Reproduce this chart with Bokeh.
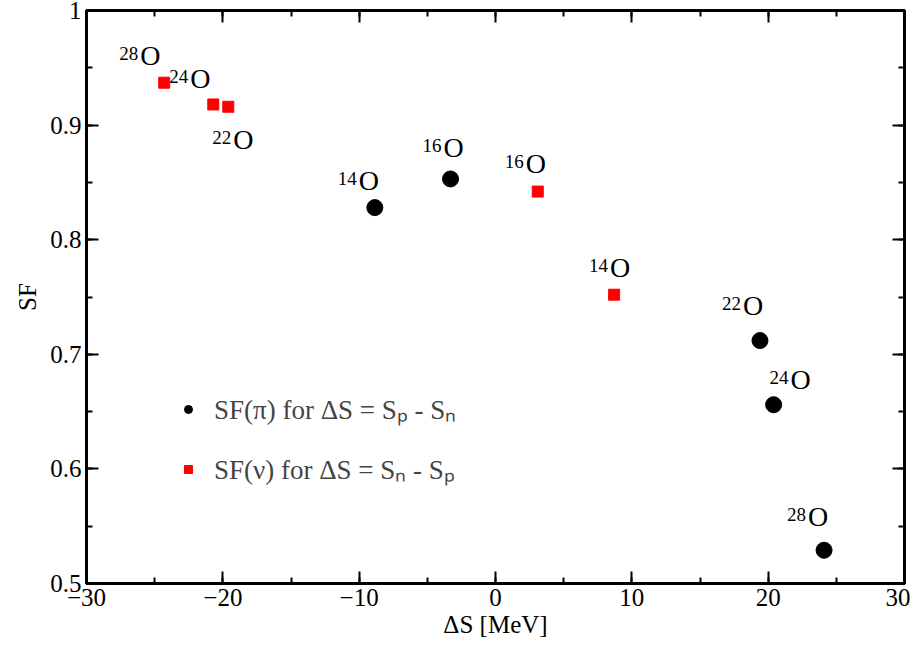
from bokeh.plotting import figure
from bokeh.models import ColumnDataSource, LinearAxis, Legend, LegendItem, Range1d
from bokeh.core.properties import value
from bokeh.embed import file_html
from bokeh.resources import INLINE

# proton SF vs dS = Sp - Sn
pi_ds = [-8.85, -3.3, 19.4, 20.4, 24.1]
pi_sf = [0.828, 0.853, 0.712, 0.656, 0.529]
pi_mass = ["14", "16", "22", "24", "28"]
# neutron SF vs dS = Sn - Sp
nu_ds = [-24.3, -20.7, -19.6, 3.1, 8.7]
nu_sf = [0.937, 0.918, 0.916, 0.842, 0.752]
nu_mass = ["28", "24", "22", "16", "14"]

FONT = "Liberation Serif"

p = figure(width=910, height=640, output_backend="svg", toolbar_location=None,
           x_range=Range1d(-30, 30), y_range=Range1d(0.5, 1.0),
           min_border_left=86, min_border_right=6, min_border_top=10, min_border_bottom=55)
p.grid.visible = False
p.outline_line_color = "black"
p.outline_line_width = 3

for ax in (p.xaxis[0], p.yaxis[0]):
    ax.axis_line_width = 3
    ax.major_tick_in = 12
    ax.major_tick_out = 0
    ax.minor_tick_in = 6
    ax.minor_tick_out = 0
    ax.major_tick_line_width = 2
    ax.minor_tick_line_width = 2
    ax.major_label_text_font = FONT
    ax.major_label_text_font_size = "25px"
    ax.major_label_text_color = "black"
    ax.axis_label_text_font = FONT
    ax.axis_label_text_font_size = "25px"
    ax.axis_label_text_font_style = "normal"
    ax.axis_label_text_color = "black"
p.xaxis.ticker.desired_num_ticks = 6
p.xaxis[0].ticker.num_minor_ticks = 2
p.yaxis[0].ticker.num_minor_ticks = 2
p.xaxis.axis_label = "ΔS [MeV]"
p.xaxis.axis_label_standoff = 2
p.yaxis.axis_label = "SF"
p.yaxis.axis_label_standoff = 6

for loc in ("above", "right"):
    a = LinearAxis(major_tick_in=12, major_tick_out=0, minor_tick_in=6, minor_tick_out=0,
                   major_tick_line_width=2, minor_tick_line_width=2, axis_line_width=3,
                   major_label_text_alpha=0, major_label_text_font_size="1px")
    a.ticker.num_minor_ticks = 2
    p.add_layout(a, loc)

src_pi = ColumnDataSource(dict(x=pi_ds, y=pi_sf, m=pi_mass,
                               dx=[-37, -28, -38, -4, -37], dy=[12, 16, 20, 10, 18]))
src_nu = ColumnDataSource(dict(x=nu_ds, y=nu_sf, m=nu_mass,
                               dx=[-45, -44, -16, -33, -25], dy=[12, 10, -48, 13, 12]))

r_pi = p.scatter("x", "y", source=src_pi, marker="circle", size=16, color="black")
r_nu = p.scatter("x", "y", source=src_nu, marker="square", size=11, color="red")

for src in (src_pi, src_nu):
    src.data["ny"] = [-(d + 11) for d in src.data["dy"]]
    src.data["ox"] = [d + 21 for d in src.data["dx"]]
    src.data["oy"] = [-d for d in src.data["dy"]]
    p.text("x", "y", text="m", source=src, x_offset="dx", y_offset="ny",
           text_font=value(FONT), text_font_size="19px", text_baseline="bottom",
           text_align="left")
    p.text("x", "y", text=value("O"), source=src, x_offset="ox", y_offset="oy",
           text_font=value(FONT), text_font_size="28px", text_baseline="bottom",
           text_align="left")

legend = Legend(items=[LegendItem(label="SF(π) for ΔS = Sₚ - Sₙ", renderers=[r_pi]),
                       LegendItem(label="SF(ν) for ΔS = Sₙ - Sₚ", renderers=[r_nu])],
                location=(80, 86), background_fill_alpha=0, border_line_alpha=0,
                label_text_font=FONT, label_text_font_size="27px", spacing=23,
                glyph_width=24, label_standoff=14)
p.add_layout(legend)

open("out.html", "w").write(file_html(p, INLINE))
